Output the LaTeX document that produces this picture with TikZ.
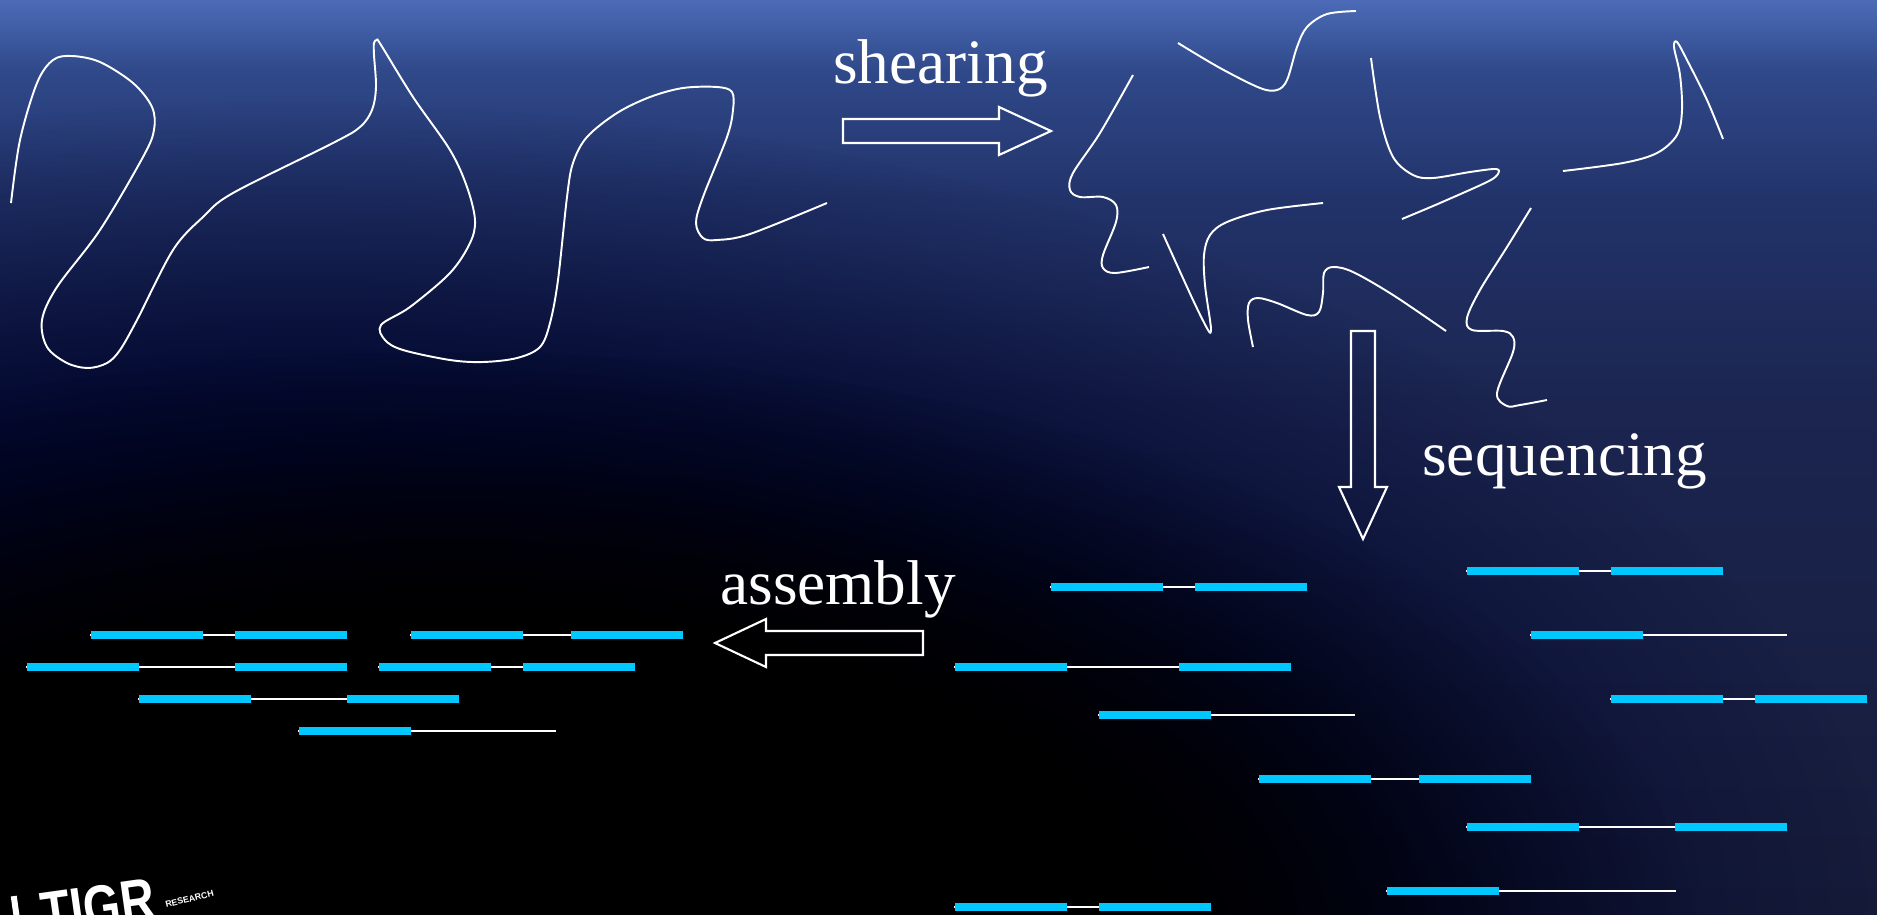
\documentclass[tikz,border=0pt]{standalone}
\usepackage{fontspec}
\setmainfont{Liberation Serif}
\newfontfamily\logofont{Liberation Sans}
\usetikzlibrary{fadings}

\definecolor{skytop}{HTML}{4C6AB6}
\definecolor{skytopb}{HTML}{4463AC}
\definecolor{skyhigh}{HTML}{30498A}
\definecolor{skymid}{HTML}{22336A}
\definecolor{skylow}{HTML}{1B2550}
\definecolor{skybottom}{HTML}{161B38}
\definecolor{deepnavy}{HTML}{00052C}
\definecolor{readcyan}{HTML}{00C8FF}

\pgfdeclareverticalshading{skyshade}{100bp}{color(0bp)=(skybottom); color(25bp)=(skybottom);
  color(53.1bp)=(skylow); color(64.1bp)=(skymid); color(71.2bp)=(skyhigh);
  color(74bp)=(skytopb); color(75bp)=(skytop); color(100bp)=(skytop)}
\pgfdeclareradialshading{darkcornershade}{\pgfpointorigin}{color(0bp)=(pgftransparent!0);
  color(13.75bp)=(pgftransparent!0); color(17bp)=(pgftransparent!20);
  color(20.5bp)=(pgftransparent!60); color(22.5bp)=(pgftransparent!80);
  color(25bp)=(pgftransparent!100); color(50bp)=(pgftransparent!100)}
\pgfdeclarefading{darkcorner}{\pgfuseshading{darkcornershade}}

\newcommand{\matepair}[3]{%
  \draw [insert] (#2-1,#1) -- (#3+112,#1);
  \draw [readbar] (#2,#1) -- ++(112,0);
  \draw [readbar] (#3,#1) -- ++(112,0);
}
\newcommand{\halfpair}[3]{%
  \draw [insert] (#2-1,#1) -- (#3,#1);
  \draw [readbar] (#2,#1) -- ++(112,0);
}

\begin{document}
\begin{tikzpicture}[x=0.02cm, y=-0.02cm,
  strand/.style={white, line width=1.1pt, line join=round},
  blockarrow/.style={white, line width=1.2pt},
  readbar/.style={readcyan, line width=4.6pt},
  insert/.style={white, line width=1pt},
  steplabel/.style={white, font=\fontsize{36}{43}\selectfont, inner sep=0pt, anchor=base west}]
\useasboundingbox (0,0) rectangle (1877,914);
\begin{scope}
\clip (0,0) rectangle (1877,914);
\shade [shading=skyshade] (0,0) rectangle (1877,914);
\fill [deepnavy, path fading=darkcorner] (300,950) ellipse [x radius=1600, y radius=850];
\fill [black, path fading=darkcorner] (450,950) ellipse [x radius=1250, y radius=600];
\end{scope}

% genome
\draw [strand] plot [smooth, tension=0.55] coordinates {(11,203) (20,140) (37,83) (53,60) (72,56) (100,62) (133,83) (152,107) (154,130) (143,157) (100,230) (57,287) (42,320) (47,347) (67,363) (88,368) (107,363) (120,350) (137,320) (173,250) (203,217) (233,193) (333,143) (360,127) (372,110) (376,87) (374,55) (374,43) (377,40) (381,45) (413,97) (450,150) (467,187) (475,220) (470,243) (450,273) (410,307) (381,325) (385,340) (403,350) (450,360) (483,362) (517,358) (540,347) (550,323) (558,280) (567,197) (573,163) (587,137) (617,113) (650,97) (683,88) (717,87) (732,92) (733,110) (727,137) (703,197) (696,223) (703,238) (717,240) (750,234) (827,203)};

% fragments
\draw [strand] plot [smooth, tension=0.55] coordinates {(1133,75) (1100,133) (1073,173) (1070,190) (1080,197) (1103,197) (1116,205) (1116,222) (1103,255) (1103,268) (1115,273) (1149,267)};
\draw [strand] plot [smooth, tension=0.55] coordinates {(1178,43) (1220,68) (1260,88) (1277,90) (1287,80) (1297,47) (1307,27) (1327,14) (1356,11)};
\draw [strand] plot [smooth, tension=0.55] coordinates {(1371,58) (1380,117) (1393,157) (1413,175) (1433,178) (1470,172) (1496,169) (1498,174) (1487,182) (1440,203) (1402,219)};
\draw [strand] plot [smooth, tension=0.55] coordinates {(1563,171) (1623,163) (1657,153) (1677,135) (1682,110) (1680,75) (1674,47) (1677,42) (1687,60) (1707,100) (1723,139)};
\draw [strand] plot [smooth, tension=0.55] coordinates {(1323,203) (1267,210) (1227,222) (1210,235) (1204,255) (1205,285) (1210,320) (1211,331) (1208,330) (1193,300) (1163,234)};
\draw [strand] plot [smooth, tension=0.55] coordinates {(1253,347) (1248,320) (1249,303) (1258,298) (1277,303) (1307,315) (1319,312) (1323,293) (1324,273) (1333,267) (1353,272) (1393,295) (1446,331)};
\draw [strand] plot [smooth, tension=0.55] coordinates {(1531,208) (1507,247) (1480,290) (1467,318) (1472,330) (1503,331) (1513,337) (1513,352) (1497,393) (1507,406) (1520,405) (1547,400)};

% steps
\node [steplabel] (shearing) at (833,83) {shearing};
\node [steplabel] (sequencing) at (1422,475) {sequencing};
\node [steplabel] (assembly) at (720,604) {assembly};
\draw [blockarrow] (843,119) -- (999,119) -- (999,107) -- (1051,131) -- (999,155) -- (999,143) -- (843,143) -- cycle;
\draw [blockarrow] (1351,331) -- (1375,331) -- (1375,487) -- (1387,487) -- (1363,539) -- (1339,487) -- (1351,487) -- cycle;
\draw [blockarrow] (923,631) -- (766,631) -- (766,619) -- (715,643) -- (766,667) -- (766,655) -- (923,655) -- cycle;

% reads
\matepair{571}{1467}{1611}
\matepair{587}{1051}{1195}
\halfpair{635}{1531}{1787}
\matepair{667}{955}{1179}
\matepair{699}{1611}{1755}
\halfpair{715}{1099}{1355}
\matepair{779}{1259}{1419}
\matepair{827}{1467}{1675}
\halfpair{891}{1387}{1676}
\matepair{907}{955}{1099}

% contigs
\matepair{635}{91}{235}
\matepair{635}{411}{571}
\matepair{667}{27}{235}
\matepair{667}{379}{523}
\matepair{699}{139}{347}
\halfpair{731}{299}{556}

% logo
\begin{scope}
\clip (0,0) rectangle (1877,914);
\fill [white, rotate around={8:(15,905)}] (12,896) rectangle (18,925);
\node [white, inner sep=0pt, anchor=base west, rotate=8, xscale=0.8, font=\logofont\bfseries\fontsize{34}{34}\selectfont] (tigr) at (44,935) {TIGR};
\node [white, inner sep=0pt, anchor=base west, rotate=14, font=\logofont\bfseries\fontsize{5}{5}\selectfont] (tigrname) at (166,908) {RESEARCH};
\end{scope}
\end{tikzpicture}
\end{document}
